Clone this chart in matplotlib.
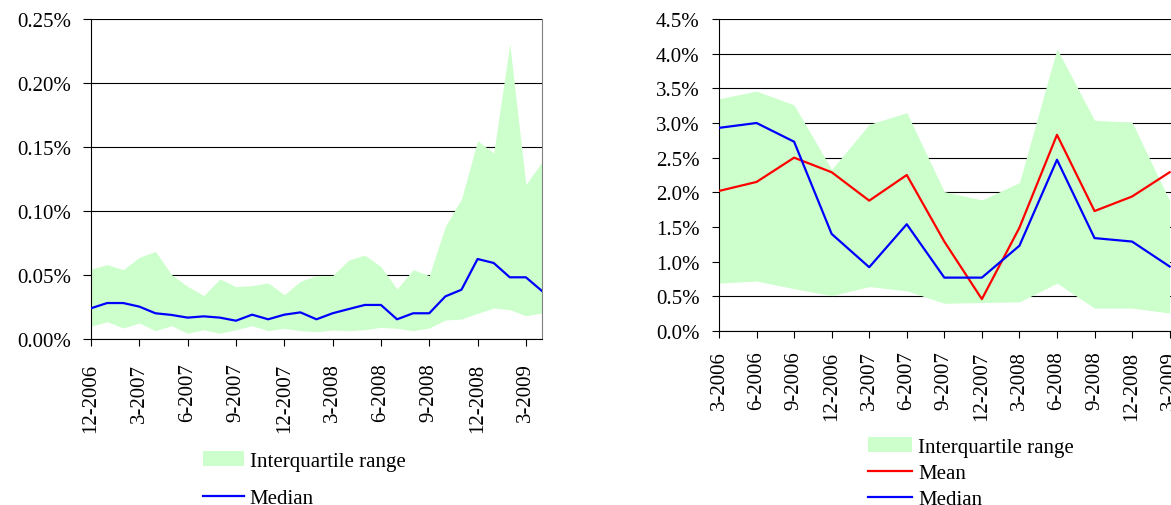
import numpy as np
import matplotlib.pyplot as plt
from matplotlib.patches import Patch
from matplotlib.lines import Line2D
from matplotlib.ticker import FuncFormatter

plt.rcParams['font.family'] = ['Liberation Serif', 'DejaVu Serif']
plt.rcParams['font.size'] = 15

# left panel: monthly, 12-2006 .. 4-2009 (values in %)
months_left = ['12-2006', '1-2007', '2-2007', '3-2007', '4-2007', '5-2007', '6-2007',
               '7-2007', '8-2007', '9-2007', '10-2007', '11-2007', '12-2007', '1-2008',
               '2-2008', '3-2008', '4-2008', '5-2008', '6-2008', '7-2008', '8-2008',
               '9-2008', '10-2008', '11-2008', '12-2008', '1-2009', '2-2009', '3-2009',
               '4-2009']
left_median = [0.0240, 0.0281, 0.0281, 0.0253, 0.0201, 0.0188, 0.0167, 0.0177, 0.0167,
               0.0143, 0.0190, 0.0154, 0.0190, 0.0208, 0.0154, 0.0201, 0.0234, 0.0266,
               0.0266, 0.0154, 0.0201, 0.0201, 0.0333, 0.0385, 0.0625, 0.0594, 0.0482,
               0.0482, 0.0375]
left_q75 = [0.0547, 0.0581, 0.0542, 0.0638, 0.0685, 0.0503, 0.0411, 0.0339, 0.0469,
            0.0409, 0.0417, 0.0438, 0.0346, 0.0451, 0.0495, 0.0495, 0.0617, 0.0656,
            0.0565, 0.0391, 0.0542, 0.0495, 0.0880, 0.1094, 0.1549, 0.1453, 0.2305,
            0.1206, 0.1385]
left_q25 = [0.0099, 0.0135, 0.0086, 0.0125, 0.0065, 0.0104, 0.0044, 0.0073, 0.0044,
            0.0073, 0.0104, 0.0065, 0.0083, 0.0065, 0.0057, 0.0070, 0.0065, 0.0073,
            0.0091, 0.0083, 0.0065, 0.0086, 0.0148, 0.0156, 0.0201, 0.0242, 0.0229,
            0.0182, 0.0203]

# right panel: quarterly, 3-2006 .. 3-2009 (values in %)
quarters_right = ['3-2006', '6-2006', '9-2006', '12-2006', '3-2007', '6-2007', '9-2007',
                  '12-2007', '3-2008', '6-2008', '9-2008', '12-2008', '3-2009']
right_median = [2.93, 3.00, 2.73, 1.40, 0.92, 1.54, 0.77, 0.77, 1.23, 2.47, 1.34, 1.29, 0.93]
right_mean = [2.02, 2.15, 2.50, 2.29, 1.88, 2.25, 1.29, 0.46, 1.49, 2.83, 1.73, 1.94, 2.29]
right_q75 = [3.35, 3.46, 3.26, 2.33, 2.98, 3.15, 2.01, 1.89, 2.14, 4.07, 3.04, 3.01, 1.88]
right_q25 = [0.69, 0.72, 0.61, 0.51, 0.64, 0.58, 0.40, 0.41, 0.42, 0.69, 0.33, 0.33, 0.26]

GREEN = '#CCFFCC'
W, H = 1171, 506


def px_axes(fig, x0, y0, x1, y1):
    return fig.add_axes([x0 / W, 1 - y1 / H, (x1 - x0) / W, (y1 - y0) / H])


def style_axes(ax):
    ax.grid(axis='y', color='black', linewidth=0.8, zorder=0)
    ax.set_axisbelow(True)
    ax.spines['top'].set_visible(False)
    ax.spines['left'].set_color('black')
    ax.spines['bottom'].set_color('black')
    ax.tick_params(axis='both', direction='out', length=5, width=0.8, colors='black')


fig = plt.figure(figsize=(W / 100, H / 100), dpi=100)

# ---- left chart ----
ax1 = px_axes(fig, 91, 20, 542, 340)
xl = np.arange(len(months_left))
ax1.fill_between(xl, left_q25, left_q75, color=GREEN, linewidth=0, zorder=2)
ax1.plot(xl, left_median, color='#0000FF', linewidth=1.6, zorder=3)
ax1.set_xlim(0, len(months_left) - 1)
ax1.set_ylim(0, 0.25)
ax1.set_yticks(np.arange(0, 0.251, 0.05))
ax1.yaxis.set_major_formatter(FuncFormatter(lambda v, p: f'{v:.2f}%'))
ax1.set_xticks(xl[::3])
ax1.set_xticklabels(months_left[::3], rotation=90)
style_axes(ax1)
ax1.spines['right'].set_color('#808080')
ax1.tick_params(axis='y', pad=9, length=5.5)
ax1.tick_params(axis='x', pad=12)

fig.legend(handles=[Patch(facecolor=GREEN, edgecolor='none', label='Interquartile range'),
                    Line2D([], [], color='#0000FF', linewidth=1.6, label='Median')],
           loc='upper left', bbox_to_anchor=(203 / W, 1 - 452 / H), frameon=False,
           borderpad=0, borderaxespad=0, handlelength=1.95, handletextpad=0.3,
           labelspacing=0.88, fontsize=15)

# ---- right chart ----
ax2 = px_axes(fig, 719, 20, 1173.4, 332)
xr = np.arange(len(quarters_right))
ax2.fill_between(xr, right_q25, right_q75, color=GREEN, linewidth=0, zorder=2)
ax2.plot(xr, right_mean, color='#FF0000', linewidth=1.6, zorder=3)
ax2.plot(xr, right_median, color='#0000FF', linewidth=1.6, zorder=4)
ax2.set_xlim(0, 12.1)
ax2.set_ylim(0, 4.5)
ax2.set_yticks(np.arange(0, 4.51, 0.5))
ax2.yaxis.set_major_formatter(FuncFormatter(lambda v, p: f'{v:.1f}%'))
ax2.set_xticks(xr)
ax2.set_xticklabels(quarters_right, rotation=90)
style_axes(ax2)
ax2.spines['right'].set_visible(False)
ax2.tick_params(axis='y', pad=9)
ax2.tick_params(axis='x', pad=9)

fig.legend(handles=[Patch(facecolor=GREEN, edgecolor='none', label='Interquartile range'),
                    Line2D([], [], color='#FF0000', linewidth=1.6, label='Mean'),
                    Line2D([], [], color='#0000FF', linewidth=1.6, label='Median')],
           loc='upper left', bbox_to_anchor=(868 / W, 1 - 438 / H), frameon=False,
           borderpad=0, borderaxespad=0, handlelength=2.1, handletextpad=0.3,
           labelspacing=0.32, fontsize=15)

fig.savefig('out.png', dpi=100)
